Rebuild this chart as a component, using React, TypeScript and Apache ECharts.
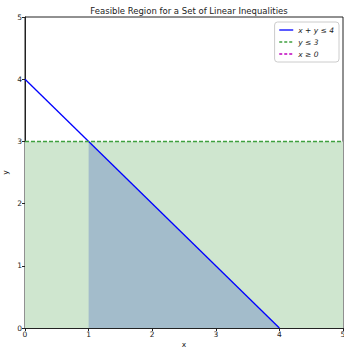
import React, { useEffect, useRef } from "react";
import * as echarts from "echarts";

const xTicks = [0, 1, 2, 3, 4, 5];
const yTicks = [0, 1, 2, 3, 4, 5];
const lineXY: number[][] = [[0, 4], [4, 0]];
const lineY3: number[][] = [[0, 3], [5, 3]];
const lineX0: number[][] = [[0, 0], [0, 5]];
const feasibleTop: number[][] = [[1, 3], [4, 0]];
const greenArea: number[][] = [[0, 3], [5, 3]];
const legendNames = ["x + y ≤ 4", "y ≤ 3", "x ≥ 0"];

export default function App() {
  const ref = useRef<HTMLDivElement>(null);
  useEffect(() => {
    const chart = echarts.init(ref.current!, null, { renderer: "svg" });
    const font = "DejaVu Sans";
    chart.setOption({
      animation: false,
      title: {
        text: "Feasible Region for a Set of Linear Inequalities",
        left: 184,
        textAlign: "center",
        top: 1,
        textStyle: { fontFamily: font, fontSize: 8.5, fontWeight: "normal", color: "#222" },
      },
      legend: {
        orient: "vertical",
        right: 5,
        top: 22,
        padding: [4, 5, 4, 4],
        itemGap: 4,
        itemWidth: 14,
        itemHeight: 9,
        borderColor: "#ccc",
        borderWidth: 1,
        borderRadius: 3,
        backgroundColor: "#fff",
        itemStyle: { opacity: 0 },
        textStyle: { fontFamily: font, fontSize: 7.5, fontStyle: "italic", color: "#222" },
        data: [
          { name: legendNames[0], lineStyle: { color: "#0000ff", width: 1.3, opacity: 1 } },
          { name: legendNames[1], lineStyle: { color: "#3fa03f", type: [3, 2], width: 1.3, opacity: 1 } },
          { name: legendNames[2], lineStyle: { color: "#bf00bf", type: [3, 2], width: 1.3, opacity: 1 } },
        ],
      },
      grid: { left: 25, right: 1, top: 17, bottom: 19, outerBoundsMode: "none", containLabel: false, show: true, borderColor: "#222", borderWidth: 1, backgroundColor: "transparent" },
      xAxis: {
        type: "value",
        min: 0,
        max: 5,
        interval: 1,
        name: "x",
        nameLocation: "middle",
        nameGap: 12,
        nameMoveOverlap: false,
        nameTextStyle: { fontFamily: font, fontSize: 7.5, color: "#222" },
        axisLine: { show: true, onZero: false, lineStyle: { color: "#222" } },
        axisTick: { show: true, length: 3, lineStyle: { color: "#222" } },
        axisLabel: { fontFamily: font, fontSize: 7.5, color: "#222", margin: 2, showMaxLabel: true },
        splitLine: { show: false },
      },
      yAxis: {
        type: "value",
        min: 0,
        max: 5,
        interval: 1,
        name: "y",
        nameLocation: "middle",
        nameGap: 16,
        nameMoveOverlap: false,
        nameTextStyle: { fontFamily: font, fontSize: 7.5, color: "#222" },
        axisLine: { show: true, onZero: false, lineStyle: { color: "#222" } },
        axisTick: { show: true, length: 3, lineStyle: { color: "#222" } },
        axisLabel: { fontFamily: font, fontSize: 7.5, color: "#222", margin: 3 },
        splitLine: { show: false },
      },
      series: [
        {
          type: "line",
          data: greenArea,
          symbol: "none",
          lineStyle: { width: 0, opacity: 0 },
          areaStyle: { color: "#cfe6cf", opacity: 1, origin: "start" },
          silent: true,
          z: 1,
        },
        {
          type: "line",
          data: feasibleTop,
          symbol: "none",
          lineStyle: { width: 0, opacity: 0 },
          areaStyle: { color: "#a3bccb", opacity: 1, origin: "start" },
          silent: true,
          z: 1,
        },
        {
          name: legendNames[0],
          type: "line",
          data: lineXY,
          symbol: "none",
          color: "#0000ff",
          lineStyle: { color: "#0000ff", width: 1.3 },
          z: 3,
        },
        {
          name: legendNames[1],
          type: "line",
          data: lineY3,
          symbol: "none",
          color: "#3fa03f",
          lineStyle: { color: "#3fa03f", width: 1.5, type: [4, 2] },
          z: 3,
        },
        {
          name: legendNames[2],
          type: "line",
          data: lineX0,
          symbol: "none",
          color: "#bf00bf",
          lineStyle: { color: "#bf00bf", width: 1.2, type: [3, 2], opacity: 0 },
          z: 0,
        },
      ],
    });
    return () => chart.dispose();
  }, []);
  return <div ref={ref} style={{ position: "absolute", left: 0, top: 0, width: 344, height: 347 }} />;
}
